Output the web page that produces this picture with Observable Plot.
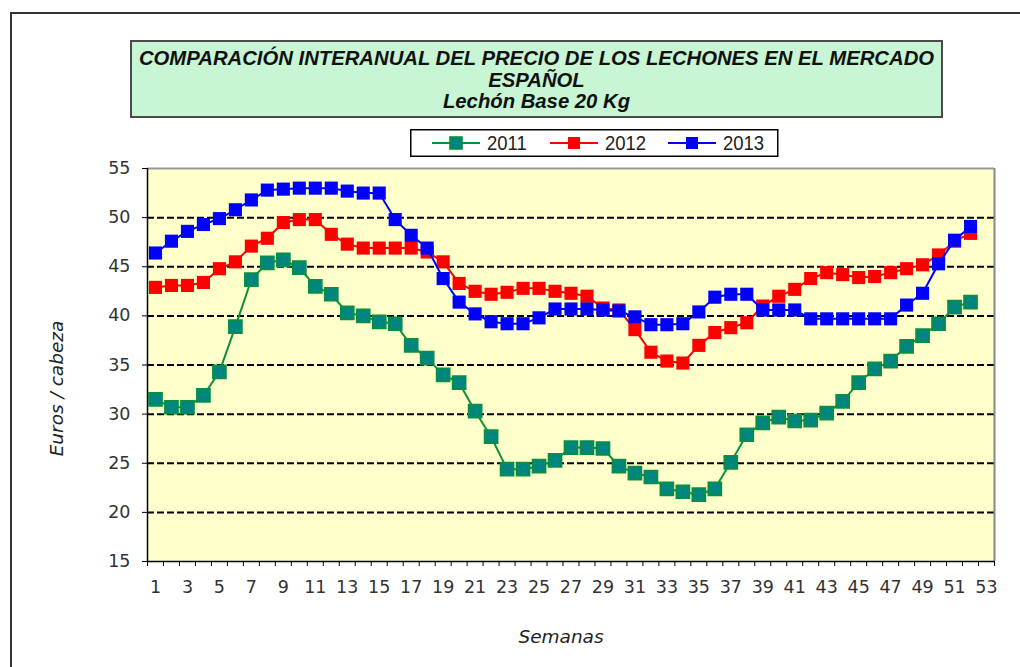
<!DOCTYPE html>
<html>
<head>
<meta charset="utf-8">
<script src="https://cdn.jsdelivr.net/npm/d3@7"></script>
<script src="https://cdn.jsdelivr.net/npm/@observablehq/plot@0.6"></script>
<style>
  html, body { margin: 0; padding: 0; background: #fff; }
  #wrap { position: relative; width: 1020px; height: 667px; overflow: hidden; background: #fff; }
  #border { position: absolute; left: 10px; top: 12px; width: 1100px; height: 700px; border-left: 2px solid #333; border-top: 2px solid #333; }
  #chart { position: absolute; left: 0; top: 0; }
  #title { position: absolute; left: 130px; top: 40px; width: 809px; height: 68px; background: #c8f5d4; border: 2px solid #4a4a4a;
    font-family: "Liberation Sans", Arial, sans-serif; font-weight: bold; font-style: italic; font-size: 20.3px; line-height: 21.5px;
    text-align: center; color: #111; padding-top: 6px; box-sizing: content-box; }
  #title div { white-space: nowrap; }
  #legend { position: absolute; left: 410px; top: 129px; }
</style>
</head>
<body>
<div id="wrap">
  <div id="border"></div>
  <div id="chart"></div>
  <div id="title"></div>
  <div id="legend"></div>
</div>
<script>
const titleLines = ["COMPARACIÓN INTERANUAL DEL PRECIO DE LOS LECHONES EN EL MERCADO", "ESPAÑOL", "Lechón Base 20 Kg"];
const xLabel = "Semanas";
const yLabel = "Euros / cabeza";
const seriesNames = ["2011", "2012", "2013"];
const weeks = d3.range(1, 53);
const xTickLabels = d3.range(1, 54, 2);
const yTicks = [15, 20, 25, 30, 35, 40, 45, 50, 55];
const gridValues = [20, 25, 30, 35, 40, 45, 50];

const v2011 = [31.5, 30.7, 30.7, 31.9, 34.3, 38.9, 43.7, 45.4, 45.7, 44.9,
  43.0, 42.2, 40.3, 40.0, 39.4, 39.2, 37.0, 35.7, 34.0, 33.2,
  30.3, 27.7, 24.4, 24.4, 24.7, 25.3, 26.6, 26.6, 26.5, 24.7,
  24.0, 23.6, 22.4, 22.1, 21.8, 22.4, 25.1, 27.9, 29.1, 29.7,
  29.3, 29.4, 30.1, 31.3, 33.2, 34.6, 35.4, 36.9, 38.0, 39.2, 40.9, 41.4];
const v2012 = [42.9, 43.1, 43.1, 43.4, 44.8, 45.5, 47.1, 47.9, 49.5, 49.8,
  49.8, 48.3, 47.3, 46.9, 46.9, 46.9, 46.9, 46.5, 45.5, 43.3,
  42.5, 42.2, 42.4, 42.8, 42.8, 42.5, 42.3, 42.0, 40.8, 40.6,
  38.6, 36.3, 35.4, 35.2, 37.0, 38.3, 38.8, 39.3, 41.0, 42.0,
  42.7, 43.8, 44.4, 44.2, 43.9, 44.0, 44.4, 44.8, 45.2, 46.2, 47.6, 48.4];
const v2013 = [46.4, 47.6, 48.6, 49.3, 49.9, 50.8, 51.8, 52.8, 52.9, 53.0,
  53.0, 53.0, 52.7, 52.5, 52.5, 49.8, 48.2, 46.9, 43.8, 41.4,
  40.2, 39.4, 39.2, 39.2, 39.8, 40.7, 40.7, 40.7, 40.6, 40.5,
  39.9, 39.1, 39.1, 39.2, 40.4, 41.9, 42.2, 42.2, 40.6, 40.6,
  40.6, 39.7, 39.7, 39.7, 39.7, 39.7, 39.7, 41.1, 42.3, 45.3, 47.7, 49.1];

const styles = [
  {line: "#0c8f3c", fill: "#00857f", stroke: "#0c8f3c", sw: 1.6},
  {line: "#ff0000", fill: "#ff0000", stroke: "none", sw: 0},
  {line: "#0000ff", fill: "#0000ff", stroke: "none", sw: 0}
];
const values = [v2011, v2012, v2013];
const tables = values.map((vals, k) => weeks.map((w, i) => ({week: w, value: vals[i], year: seriesNames[k]})));

const seriesMarks = tables.flatMap((t, k) => [
  Plot.line(t, {x: "week", y: "value", stroke: styles[k].line, strokeWidth: 2}),
  Plot.dot(t, {x: "week", y: "value", symbol: "square", r: 7.4, fill: styles[k].fill,
    stroke: styles[k].stroke, strokeWidth: styles[k].sw})
]);

const chart = Plot.plot({
  width: 1020, height: 667,
  marginLeft: 147, marginRight: 26, marginTop: 168, marginBottom: 106,
  x: {domain: [0.5, 53.5]},
  y: {domain: [15, 55]},
  style: {background: "transparent", fontFamily: "'DejaVu Sans', Verdana, sans-serif", fontSize: "17.5px", color: "#333"},
  marks: [
    Plot.frame({fill: "#ffffcc", stroke: null}),
    Plot.ruleY(gridValues, {stroke: "#000", strokeWidth: 2, strokeDasharray: "7,3"}),
    Plot.ruleX([53.5], {stroke: "#888", strokeWidth: 2}),
    Plot.ruleY([55], {stroke: "#999", strokeWidth: 2}),
    Plot.ruleX([0.5], {stroke: "#000", strokeWidth: 1.5}),
    Plot.ruleY([15], {stroke: "#000", strokeWidth: 1.5}),
    Plot.axisY({ticks: yTicks, tickSize: 5, tickPadding: 12, label: null, stroke: "#000"}),
    Plot.axisX({ticks: d3.range(0.5, 54, 1), tickSize: 5, tickFormat: () => "", label: null, stroke: "#000"}),
    Plot.axisX({ticks: xTickLabels, tickSize: 0, tickPadding: 19, label: null}),
    ...seriesMarks,
    Plot.text([xLabel], {text: d => d, frameAnchor: "bottom", dx: -10, dy: 76, lineAnchor: "middle", textAnchor: "middle",
      fontStyle: "italic", fontSize: 18.5, fill: "#222"}),
    Plot.text([yLabel], {text: d => d, frameAnchor: "left", rotate: -90, dx: -90, dy: 23.5, lineAnchor: "middle", textAnchor: "middle",
      fontStyle: "italic", fontSize: 18.5, fill: "#222"})
  ]
});
document.getElementById("chart").appendChild(chart);

const titleEl = document.getElementById("title");
titleLines.forEach(t => { const d = document.createElement("div"); d.textContent = t; titleEl.appendChild(d); });

// legend
const lg = d3.select("#legend").append("svg").attr("width", 370).attr("height", 29);
lg.append("rect").attr("x", 0.75).attr("y", 0.75).attr("width", 367).attr("height", 26.5).attr("fill", "#fff").attr("stroke", "#000").attr("stroke-width", 1.5);
const legX = [22, 140, 258];
seriesNames.forEach((name, k) => {
  const g = lg.append("g").attr("transform", `translate(${legX[k]},14)`);
  g.append("line").attr("x1", 0).attr("x2", 48).attr("y1", 0).attr("y2", 0).attr("stroke", styles[k].line).attr("stroke-width", 2);
  g.append("rect").attr("x", 18).attr("y", -6).attr("width", 12).attr("height", 12).attr("fill", styles[k].fill)
    .attr("stroke", styles[k].stroke).attr("stroke-width", styles[k].sw);
  g.append("text").attr("x", 55).attr("y", 0).attr("dy", "0.36em").attr("transform", "scale(1,1.12)")
    .attr("font-family", "'Liberation Sans', Arial, sans-serif").attr("font-size", 18.5).attr("fill", "#222").text(name);
});
</script>
</body>
</html>
